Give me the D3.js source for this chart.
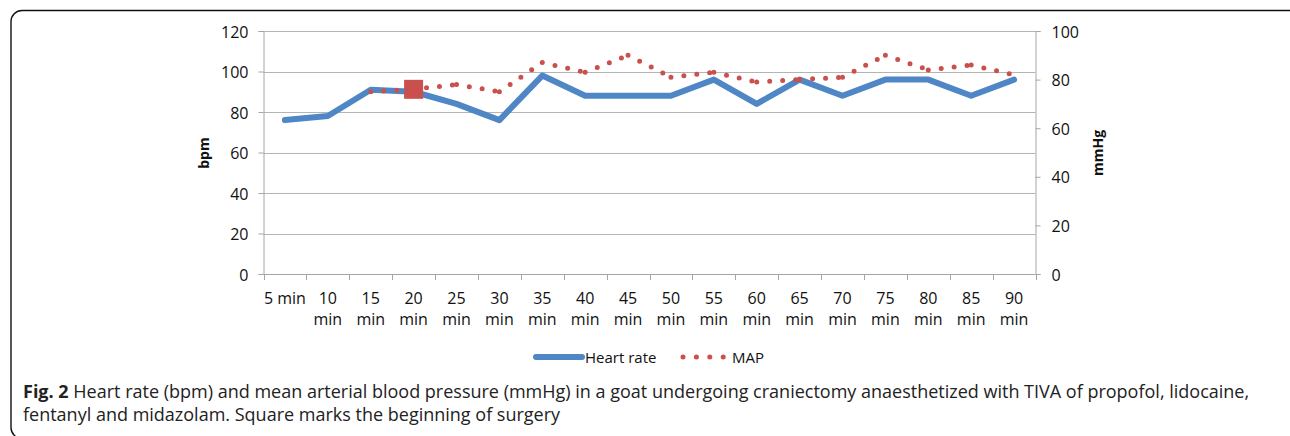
<!DOCTYPE html>
<html>
<head>
<meta charset="utf-8">
<script src="https://cdn.jsdelivr.net/npm/d3@7/dist/d3.min.js"></script>
<style>
  html, body { margin: 0; padding: 0; background: #fff; }
  svg { display: block; font-family: "Open Sans", sans-serif; }
</style>
</head>
<body>
<svg id="chart" width="1290" height="436"></svg>
<script>
const categories = ["5 min","10 min","15 min","20 min","25 min","30 min","35 min","40 min","45 min",
  "50 min","55 min","60 min","65 min","70 min","75 min","80 min","85 min","90 min"];
const heartRate = [76, 78, 91, 90, 84, 76, 98, 88, 88, 88, 96, 84, 96, 88, 96, 96, 88, 96];
const mapValues = [null, null, 75, 76, 78, 75, 87, 83, 90, 81, 83, 79, 80, 81, 90, 84, 86, 82];
const leftTicks = [0, 20, 40, 60, 80, 100, 120];
const rightTicks = [0, 20, 40, 60, 80, 100];
const surgeryStart = "20 min";
const captionBold = "Fig. 2";
const captionLine1 = " Heart rate (bpm) and mean arterial blood pressure (mmHg) in a goat undergoing craniectomy anaesthetized with TIVA of propofol, lidocaine,";
const captionLine2 = "fentanyl and midazolam. Square marks the beginning of surgery";

const svg = d3.select("#chart");
const HR_COLOR = "#4f87c6", MAP_COLOR = "#c9504d", GRID = "#b4b4b4", AXIS = "#a6a6a6";

// frame
svg.append("rect").attr("x", 11).attr("y", 10.5).attr("width", 1290).attr("height", 428)
  .attr("rx", 11).attr("fill", "none").attr("stroke", "#111").attr("stroke-width", 1.4);

const x = d3.scaleBand().domain(categories).range([263.5, 1035.5]).padding(0);
const yL = d3.scaleLinear().domain([0, 120]).range([274, 31]);
const yR = d3.scaleLinear().domain([0, 100]).range([274, 31]);
const cx = d => x(d) + x.bandwidth() / 2;

// gridlines
svg.append("g").selectAll("line").data(leftTicks.filter(t => t > 0)).join("line")
  .attr("x1", 263.5).attr("x2", 1035.5)
  .attr("y1", d => Math.round(yL(d)) + 0.5).attr("y2", d => Math.round(yL(d)) + 0.5)
  .attr("stroke", GRID).attr("stroke-width", 1);

// left axis
const gL = svg.append("g").attr("transform", "translate(263.5,0)")
  .call(d3.axisLeft(yL).tickValues(leftTicks).tickSize(5).tickPadding(10));
// right axis
const gR = svg.append("g").attr("transform", "translate(1035.5,0)")
  .call(d3.axisRight(yR).tickValues(rightTicks).tickSize(5).tickPadding(11));
[gL, gR].forEach(g => {
  g.select(".domain").attr("stroke", AXIS);
  g.selectAll(".tick line").attr("stroke", AXIS);
  g.selectAll(".tick text").attr("font-size", 16).attr("fill", "#111")
    .attr("font-family", "Open Sans").attr("dy", "0.38em");
});

// bottom axis: line + ticks at band boundaries
const gB = svg.append("g");
gB.append("line").attr("x1", 263.5).attr("x2", 1035.5).attr("y1", 274.5).attr("y2", 274.5)
  .attr("stroke", AXIS);
const bounds = categories.map(c => x(c)).concat([x(categories[categories.length - 1]) + x.bandwidth()]);
gB.selectAll("line.tk").data(bounds).join("line").attr("class", "tk")
  .attr("x1", d => Math.round(d) + 0.5).attr("x2", d => Math.round(d) + 0.5)
  .attr("y1", 274).attr("y2", 280).attr("stroke", AXIS);
const labels = gB.selectAll("text").data(categories).join("text")
  .attr("x", d => cx(d)).attr("y", 304).attr("text-anchor", "middle")
  .attr("font-size", 16).attr("fill", "#111");
labels.each(function(d) {
  const t = d3.select(this);
  if (d === categories[0]) { t.text(d); return; }
  const parts = d.split(" ");
  t.append("tspan").attr("x", cx(d)).attr("dy", 0).text(parts[0]);
  t.append("tspan").attr("x", cx(d)).attr("dy", 21).text(parts[1]);
});

// axis titles
svg.append("text").attr("transform", "translate(209,153) rotate(-90)")
  .attr("text-anchor", "middle").attr("font-size", 14).attr("font-weight", "bold").attr("fill", "#111").text("bpm");
svg.append("text").attr("transform", "translate(1103,153) rotate(-90)")
  .attr("text-anchor", "middle").attr("font-size", 14).attr("font-weight", "bold").attr("fill", "#111").text("mmHg");

// heart rate line
const hrLine = d3.line().x((d, i) => cx(categories[i])).y(d => yL(d));
svg.append("path").datum(heartRate).attr("d", hrLine)
  .attr("fill", "none").attr("stroke", HR_COLOR).attr("stroke-width", 6)
  .attr("stroke-linejoin", "round").attr("stroke-linecap", "round");

// MAP dotted line, drawn segment by segment so dot pattern restarts at each point
const mapPts = mapValues.map((v, i) => v == null ? null : [cx(categories[i]), yR(v)]);
const segs = [];
for (let i = 1; i < mapPts.length; i++) {
  if (mapPts[i - 1] && mapPts[i]) segs.push([mapPts[i - 1], mapPts[i]]);
}
svg.append("g").selectAll("path").data(segs).join("path")
  .attr("d", d => d3.line()(d))
  .attr("fill", "none").attr("stroke", MAP_COLOR).attr("stroke-width", 5)
  .attr("stroke-linecap", "round").attr("stroke-dasharray", "0 13");

// surgery square marker
const si = categories.indexOf(surgeryStart);
svg.append("rect").attr("x", cx(surgeryStart) - 9.5).attr("y", yR(mapValues[si]) - 9.5)
  .attr("width", 19).attr("height", 19).attr("fill", MAP_COLOR);

// legend
const lg = svg.append("g");
lg.append("line").attr("x1", 536).attr("x2", 582).attr("y1", 357).attr("y2", 357)
  .attr("stroke", HR_COLOR).attr("stroke-width", 6).attr("stroke-linecap", "round");
lg.append("text").attr("x", 585).attr("y", 362.5).attr("font-size", 15).attr("fill", "#111").text("Heart rate");
lg.append("line").attr("x1", 683).attr("x2", 723.5).attr("y1", 357).attr("y2", 357)
  .attr("stroke", MAP_COLOR).attr("stroke-width", 5).attr("stroke-linecap", "round")
  .attr("stroke-dasharray", "0 13.4");
lg.append("text").attr("x", 732).attr("y", 362.5).attr("font-size", 15).attr("fill", "#111").text("MAP");

// caption
const cap = svg.append("text").attr("x", 23).attr("y", 398).attr("font-size", 18).attr("fill", "#222");
cap.append("tspan").attr("font-weight", "bold").text(captionBold);
cap.append("tspan").text(captionLine1);
svg.append("text").attr("x", 23).attr("y", 421).attr("font-size", 18).attr("fill", "#222").text(captionLine2);
</script>
</body>
</html>
